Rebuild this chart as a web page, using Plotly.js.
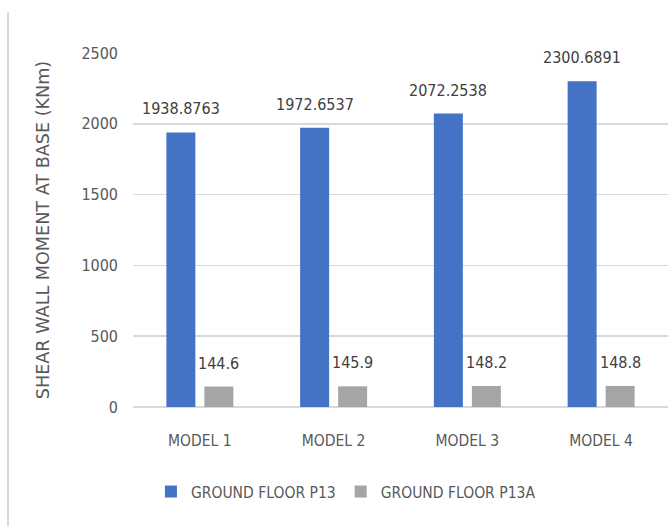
<!DOCTYPE html>
<html>
<head>
<meta charset="utf-8">
<script src="https://cdn.plot.ly/plotly-3.0.1.min.js"></script>
<style>
  html, body { margin: 0; padding: 0; background: #ffffff; }
  #chart { width: 672px; height: 526px; }
</style>
</head>
<body>
<div id="chart"></div>
<script>
// Shear wall base moments per model
const models = ['MODEL 1', 'MODEL 2', 'MODEL 3', 'MODEL 4'];
const seriesNames = ['GROUND FLOOR P13', 'GROUND FLOOR P13A'];
const p13 = [1938.8763, 1972.6537, 2072.2538, 2300.6891];
const p13a = [144.6, 145.9, 148.2, 148.8];
const yTicks = [0, 500, 1000, 1500, 2000, 2500];

const narrow = '"DejaVu Sans Condensed", "Liberation Sans", sans-serif';
const textGrey = '#595959';

const traces = [
  { type: 'bar', name: seriesNames[0], x: models, y: p13,
    marker: { color: '#4472C4' }, hoverinfo: 'x+y' },
  { type: 'bar', name: seriesNames[1], x: models, y: p13a,
    marker: { color: '#A5A5A5' }, hoverinfo: 'x+y' }
];

// value labels sitting above each bar
const labels = [];
[p13, p13a].forEach((vals, s) => {
  vals.forEach((v, i) => {
    labels.push({
      x: models[i], y: v, xref: 'x', yref: 'y',
      text: String(v), showarrow: false,
      xanchor: 'center', yanchor: 'bottom',
      xshift: s === 0 ? -19 : 19, yshift: 12,
      font: { family: narrow, size: 16, color: '#404040' }
    });
  });
});

const layout = {
  width: 672, height: 526,
  margin: { l: 133, r: 4, t: 53, b: 119 },
  paper_bgcolor: '#ffffff', plot_bgcolor: '#ffffff',
  barmode: 'group', bargap: 0.432, bargroupgap: 0.237,
  showlegend: true,
  legend: {
    orientation: 'h', x: 0.398, xanchor: 'center', y: -0.24, yanchor: 'middle',
    font: { family: narrow, size: 15.5, color: textGrey },
    itemwidth: 30, traceorder: 'normal'
  },
  xaxis: {
    type: 'category', showgrid: false, zeroline: false, showline: false,
    ticks: '', ticklabelstandoff: 22,
    tickfont: { family: narrow, size: 15.5, color: textGrey }
  },
  yaxis: {
    range: [0, 2500], tickvals: yTicks, ticktext: yTicks.map(String),
    showgrid: true, gridcolor: '#d9d9d9', gridwidth: 1.5,
    zeroline: true, zerolinecolor: '#d9d9d9', zerolinewidth: 2,
    showline: false, ticks: '', ticklabelstandoff: 14,
    tickfont: { family: narrow, size: 16, color: textGrey },
    title: { text: 'SHEAR WALL MOMENT AT BASE (KNm)', standoff: 27,
      font: { family: '"DejaVu Sans", sans-serif', size: 17.6, color: textGrey } }
  },
  annotations: labels,
  shapes: [{
    type: 'line', xref: 'paper', yref: 'paper',
    x0: -0.2336, x1: -0.2336, y0: 1.116, y1: -0.34,
    line: { color: '#d9d9d9', width: 2 }
  }]
};

Plotly.newPlot('chart', traces, layout, { displayModeBar: false, staticPlot: true });
</script>
</body>
</html>
